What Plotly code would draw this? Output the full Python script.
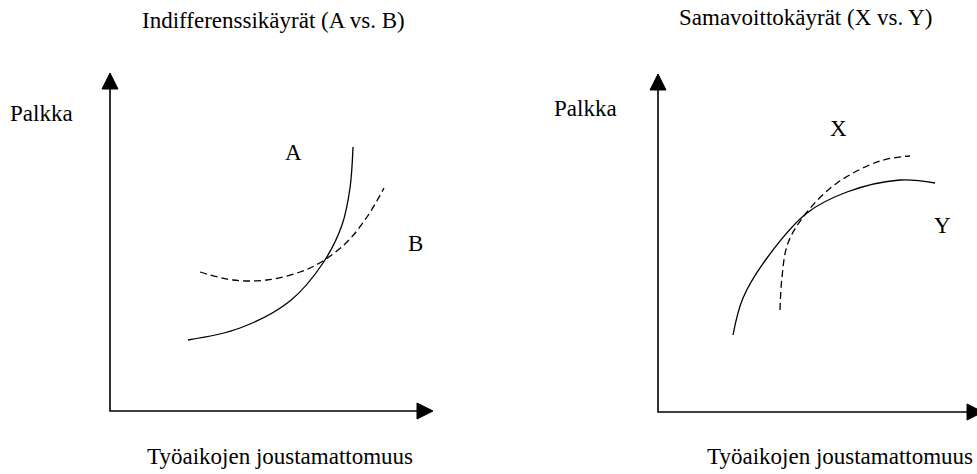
import plotly.graph_objects as go

W, H = 977, 474

# Panel origins (page pixels) - layout
LEFT_ORIGIN = (110, 411)
RIGHT_ORIGIN = (658, 412)
AXIS_LEN_X = [323, 325]
AXIS_LEN_Y = [338, 338]

# Curve data (units relative to each panel's axis corner)
A_x = [78, 130, 180, 213, 232, 240, 243]
A_y = [71, 83, 110, 148, 186, 223, 264]
B_x = [90, 123, 157, 190, 213, 237, 257, 274]
B_y = [139, 131, 131, 139, 150, 169, 194, 223]

Y_x = [75, 85, 109, 149, 189, 242, 277]
Y_y = [77, 114, 154, 199, 220, 232, 229]
X_x = [122, 124, 130, 149, 179, 222, 252]
X_y = [102, 135, 169, 200, 229, 251, 256]

curve_labels_left = ["A", "B"]
label_pos_left = [(183, 259), (305, 168)]
curve_labels_right = ["X", "Y"]
label_pos_right = [(180, 284), (284, 187)]

titles = ["Indifferenssikäyrät (A vs. B)", "Samavoittokäyrät (X vs. Y)"]
y_label = "Palkka"
x_label = "Työaikojen joustamattomuus"

FONT = "Liberation Serif"
FS = 23

fig = go.Figure()

def axes_for(ox, oy):
    xr = [-ox, W - ox]
    yr = [-(H - oy), oy]
    return xr, yr

panels = [
    dict(origin=LEFT_ORIGIN, xa="x", ya="y", curves=[(A_x, A_y, "solid"), (B_x, B_y, "7px,4px")],
         labels=curve_labels_left, lpos=label_pos_left, lx=AXIS_LEN_X[0], ly=AXIS_LEN_Y[0]),
    dict(origin=RIGHT_ORIGIN, xa="x2", ya="y2", curves=[(Y_x, Y_y, "solid"), (X_x, X_y, "7px,4px")],
         labels=curve_labels_right, lpos=label_pos_right, lx=AXIS_LEN_X[1], ly=AXIS_LEN_Y[1]),
]

AW, AH = 8, 16  # arrowhead half-width, length

for p in panels:
    xa, ya = p["xa"], p["ya"]
    fig.add_trace(go.Scatter(x=[0, 0, p["lx"] - AH], y=[p["ly"] - AH, 0, 0], mode="lines",
                             line=dict(color="black", width=1.6), xaxis=xa, yaxis=ya,
                             showlegend=False, hoverinfo="skip"))
    fig.add_trace(go.Scatter(x=[-AW, AW, 0, -AW], y=[p["ly"] - AH, p["ly"] - AH, p["ly"], p["ly"] - AH],
                             mode="lines", fill="toself", fillcolor="black",
                             line=dict(color="black", width=1), xaxis=xa, yaxis=ya,
                             showlegend=False, hoverinfo="skip"))
    fig.add_trace(go.Scatter(x=[p["lx"] - AH, p["lx"] - AH, p["lx"], p["lx"] - AH], y=[-AW, AW, 0, -AW],
                             mode="lines", fill="toself", fillcolor="black",
                             line=dict(color="black", width=1), xaxis=xa, yaxis=ya,
                             showlegend=False, hoverinfo="skip"))
    for cx, cy, dash in p["curves"]:
        fig.add_trace(go.Scatter(x=cx, y=cy, mode="lines", line=dict(color="black", width=1.3,
                                 dash=dash, shape="spline", smoothing=1.0),
                                 xaxis=xa, yaxis=ya, showlegend=False, hoverinfo="skip"))
    for t, (lx, ly) in zip(p["labels"], p["lpos"]):
        fig.add_annotation(x=lx, y=ly, xref=xa, yref=ya, text=t, showarrow=False,
                           xanchor="center", yanchor="middle",
                           font=dict(family=FONT, size=FS, color="black"))

xr1, yr1 = axes_for(*LEFT_ORIGIN)
xr2, yr2 = axes_for(*RIGHT_ORIGIN)
ax_common = dict(visible=False, showgrid=False, zeroline=False, fixedrange=True)
fig.update_layout(
    xaxis=dict(range=xr1, domain=[0, 1], **ax_common),
    yaxis=dict(range=yr1, domain=[0, 1], **ax_common),
    xaxis2=dict(range=xr2, domain=[0, 1], overlaying="x", **ax_common),
    yaxis2=dict(range=yr2, domain=[0, 1], overlaying="y", anchor="x2", **ax_common),
)

def paper(px, py):
    return px / W, 1 - py / H

text_items = [
    (titles[0], 273, 20), (titles[1], 805, 17),
    (y_label, 41, 114), (y_label, 585, 108),
    (x_label, 280, 456), (x_label, 840, 456),
]
for t, px, py in text_items:
    x, y = paper(px, py)
    fig.add_annotation(x=x, y=y, xref="paper", yref="paper", text=t, showarrow=False,
                       xanchor="center", yanchor="middle",
                       font=dict(family=FONT, size=FS, color="black"))

fig.update_layout(width=W, height=H, margin=dict(l=0, r=0, t=0, b=0),
                  paper_bgcolor="white", plot_bgcolor="white", showlegend=False)

fig.write_html("out.html", config={"displayModeBar": False},
               post_script="document.body.style.margin='0px';")
